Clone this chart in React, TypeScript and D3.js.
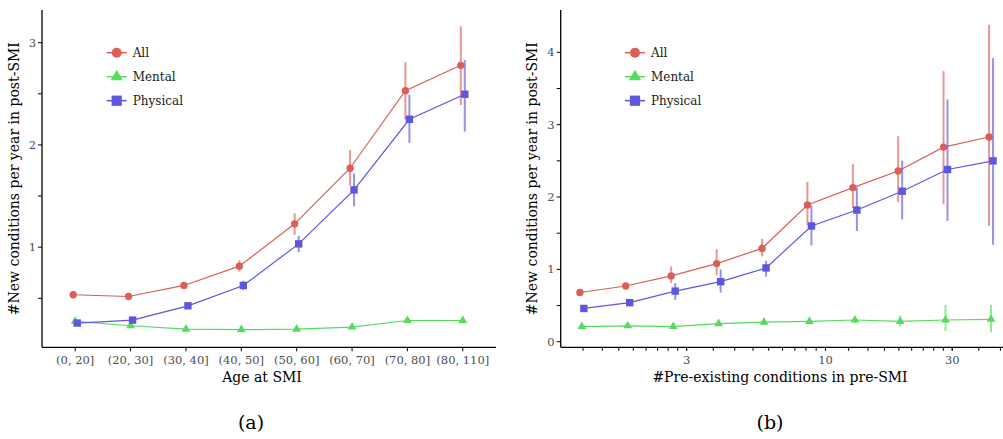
import * as d3 from "d3";

// ---- panel (a): age at SMI ----
const ageGroups = ["(0, 20]", "(20, 30]", "(30, 40]", "(40, 50]", "(50, 60]", "(60, 70]", "(70, 80]", "(80, 110]"];
const ageAll = [0.534, 0.517, 0.625, 0.814, 1.228, 1.772, 2.531, 2.779];
const ageAllLo = [0.5, 0.5, 0.6, 0.76, 1.12, 1.6, 2.25, 2.39];
const ageAllHi = [0.57, 0.54, 0.65, 0.87, 1.33, 1.95, 2.81, 3.16];
const ageMental = [0.273, 0.231, 0.198, 0.192, 0.198, 0.218, 0.282, 0.282];
const ageMentalLo = [0.25, 0.22, 0.19, 0.18, 0.19, 0.2, 0.27, 0.25];
const ageMentalHi = [0.29, 0.24, 0.21, 0.2, 0.21, 0.23, 0.3, 0.32];
const agePhysical = [0.257, 0.286, 0.426, 0.625, 1.032, 1.56, 2.251, 2.496];
const agePhysicalLo = [0.24, 0.27, 0.41, 0.58, 0.95, 1.4, 2.02, 2.13];
const agePhysicalHi = [0.28, 0.3, 0.45, 0.67, 1.11, 1.72, 2.49, 2.83];
const ageYTicks = [1, 2, 3];
const ageYMinor = [0.5, 1.5, 2.5];

// ---- panel (b): pre-existing conditions ----
const preBins = [1.21, 1.8, 2.67, 3.96, 5.87, 8.7, 12.9, 19.1, 28.3, 42.0];
const preAll = [0.68, 0.77, 0.91, 1.08, 1.29, 1.89, 2.13, 2.36, 2.69, 2.83];
const preAllLo = [0.65, 0.73, 0.81, 0.92, 1.18, 1.61, 1.85, 1.93, 1.9, 1.6];
const preAllHi = [0.71, 0.8, 1.04, 1.28, 1.42, 2.21, 2.46, 2.84, 3.74, 4.38];
const preMental = [0.21, 0.22, 0.21, 0.25, 0.27, 0.28, 0.3, 0.28, 0.3, 0.31];
const preMentalLo = [0.19, 0.2, 0.19, 0.22, 0.24, 0.25, 0.26, 0.21, 0.15, 0.13];
const preMentalHi = [0.23, 0.24, 0.23, 0.28, 0.3, 0.31, 0.34, 0.36, 0.51, 0.51];
const prePhysical = [0.46, 0.54, 0.7, 0.83, 1.02, 1.6, 1.82, 2.08, 2.38, 2.5];
const prePhysicalLo = [0.44, 0.51, 0.58, 0.68, 0.9, 1.33, 1.53, 1.69, 1.67, 1.34];
const prePhysicalHi = [0.48, 0.57, 0.81, 1.0, 1.12, 1.88, 2.13, 2.5, 3.35, 3.92];
const preXMajor = [1, 3, 10, 30, 100];
const preXLabels = [3, 10, 30];
const preYTicks = [0, 1, 2, 3, 4];
const preYMinor = [0.5, 1.5, 2.5, 3.5];

const seriesNames = ["All", "Mental", "Physical"];
const colors = ["#db5f57", "#57db5f", "#5f57db"];
const shapes = [d3.symbolCircle, d3.symbolTriangle, d3.symbolSquare];
const plotSizes = [42, 34, 55];
const legendSizes = [78, 64, 105];
const dodge = [-2, 0, 2];

const FONT = "'DejaVu Serif', 'Liberation Serif', serif";
const TICK_COLOR = "#4d4d4d";
const TOP = 10;
const BOTTOM = 347.3;

type Series = { mid: number[]; lo: number[]; hi: number[] };

function Marks({ xs, y, series }: { xs: number[]; y: d3.ScaleLinear<number, number>; series: Series[] }) {
  return (
    <g>
      {series.map((s, k) => {
        const px = xs.map((x) => x + dodge[k]);
        const line = d3.line<number>().x((_, i) => px[i]).y((v) => y(v));
        const sym = d3.symbol().type(shapes[k]).size(plotSizes[k]);
        return (
          <g key={k}>
            {s.mid.map((_, i) => (
              <line key={"e" + i} x1={px[i]} x2={px[i]} y1={y(s.lo[i])} y2={y(s.hi[i])}
                stroke={colors[k]} strokeWidth={2} strokeOpacity={0.65} />
            ))}
            <path d={line(s.mid) || ""} fill="none" stroke={colors[k]} strokeWidth={1.2} />
            {s.mid.map((v, i) => (
              <path key={"p" + i} d={sym() || ""} transform={`translate(${px[i]},${y(v)})`} fill={colors[k]} />
            ))}
          </g>
        );
      })}
    </g>
  );
}

function Legend({ x, y0 }: { x: number; y0: number }) {
  return (
    <g>
      {seriesNames.map((name, k) => {
        const yy = y0 + k * 24;
        const sym = d3.symbol().type(shapes[k]).size(legendSizes[k]);
        return (
          <g key={name}>
            <line x1={x - 10} x2={x + 10} y1={yy} y2={yy} stroke={colors[k]} strokeWidth={1.5} />
            <path d={sym() || ""} transform={`translate(${x},${yy})`} fill={colors[k]} />
            <text x={x + 16} y={yy} dy="0.35em" fontSize={12} style={{ fontFamily: FONT }} fill="#1a1a1a">{name}</text>
          </g>
        );
      })}
    </g>
  );
}

function YAxis({ y, x0, ticks, minor }: { y: d3.ScaleLinear<number, number>; x0: number; ticks: number[]; minor: number[] }) {
  return (
    <g>
      <line x1={x0} x2={x0} y1={TOP} y2={BOTTOM} stroke="#000" strokeWidth={1.3} />
      {ticks.concat(minor).map((t) => (
        <line key={"t" + t} x1={x0 - 4} x2={x0} y1={y(t)} y2={y(t)} stroke="#000" strokeWidth={1} />
      ))}
      {ticks.map((t) => (
        <text key={"l" + t} x={x0 - 6} y={y(t)} dy="0.35em" textAnchor="end" fontSize={11.5}
          style={{ fontFamily: FONT }} fill={TICK_COLOR}>{t}</text>
      ))}
    </g>
  );
}

function YTitle({ x }: { x: number }) {
  return (
    <text transform={`translate(${x},${(TOP + BOTTOM) / 2}) rotate(-90)`} textAnchor="middle" dy="0.35em"
      fontSize={14} style={{ fontFamily: FONT }} fill="#000">#New conditions per year in post-SMI</text>
  );
}

export default function App() {
  // left panel
  const xa = d3.scalePoint<string>().domain(ageGroups).range([42, 496]).padding(0.6);
  const ya = d3.scaleLinear().domain([0.02, 3.32]).range([BOTTOM, TOP]);
  const ageSeries: Series[] = [
    { mid: ageAll, lo: ageAllLo, hi: ageAllHi },
    { mid: ageMental, lo: ageMentalLo, hi: ageMentalHi },
    { mid: agePhysical, lo: agePhysicalLo, hi: agePhysicalHi },
  ];

  // right panel
  const xb = d3.scaleLog().domain([1.007, 49.5]).range([560.7, 1010]);
  const yb = d3.scaleLinear().domain([-0.077, 4.585]).range([BOTTOM, TOP]);
  const preSeries: Series[] = [
    { mid: preAll, lo: preAllLo, hi: preAllHi },
    { mid: preMental, lo: preMentalLo, hi: preMentalHi },
    { mid: prePhysical, lo: prePhysicalLo, hi: prePhysicalHi },
  ];
  const [d0, d1] = xb.domain();
  const preMinor: number[] = [];
  for (let j = 0; j < preXMajor.length - 1; j++) {
    const a = preXMajor[j];
    const b = preXMajor[j + 1];
    for (let m = 0; m <= 9; m++) {
      const v = a + ((b - a) * m) / 9;
      if (v >= d0 && v <= d1) preMinor.push(v);
    }
  }

  return (
    <svg width={1003} height={439} style={{ position: "absolute", left: 0, top: 0, background: "#fff" }}>
      {/* ---------- (a) ---------- */}
      <YAxis y={ya} x0={42} ticks={ageYTicks} minor={ageYMinor} />
      <line x1={42} x2={496} y1={BOTTOM} y2={BOTTOM} stroke="#000" strokeWidth={1.3} />
      {ageGroups.map((g) => (
        <g key={g}>
          <line x1={xa(g)} x2={xa(g)} y1={BOTTOM} y2={BOTTOM + 4} stroke="#000" />
          <text x={xa(g)} y={363.5} textAnchor="middle" fontSize={11.5} style={{ fontFamily: FONT }} fill={TICK_COLOR}>{g}</text>
        </g>
      ))}
      <Marks xs={ageGroups.map((g) => xa(g) as number)} y={ya} series={ageSeries} />
      <Legend x={116.7} y0={52.7} />
      <YTitle x={14} />
      <text x={262} y={382} textAnchor="middle" fontSize={14} style={{ fontFamily: FONT }}>Age at SMI</text>
      <text x={251} y={429} textAnchor="middle" fontSize={19} style={{ fontFamily: FONT }}>(a)</text>

      {/* ---------- (b) ---------- */}
      <YAxis y={yb} x0={560.7} ticks={preYTicks} minor={preYMinor} />
      <line x1={560.7} x2={1010} y1={BOTTOM} y2={BOTTOM} stroke="#000" strokeWidth={1.3} />
      {preMinor.map((v, i) => (
        <line key={"m" + i} x1={xb(v)} x2={xb(v)} y1={BOTTOM} y2={BOTTOM + 3.5} stroke="#000" />
      ))}
      {preXLabels.map((v) => (
        <text key={v} x={xb(v)} y={363.5} textAnchor="middle" fontSize={11.5} style={{ fontFamily: FONT }} fill={TICK_COLOR}>{v}</text>
      ))}
      <Marks xs={preBins.map((v) => xb(v))} y={yb} series={preSeries} />
      <Legend x={635} y0={52.7} />
      <YTitle x={532} />
      <text x={780} y={382} textAnchor="middle" fontSize={14} style={{ fontFamily: FONT }}>#Pre-existing conditions in pre-SMI</text>
      <text x={770} y={429} textAnchor="middle" fontSize={19} style={{ fontFamily: FONT }}>(b)</text>
    </svg>
  );
}
